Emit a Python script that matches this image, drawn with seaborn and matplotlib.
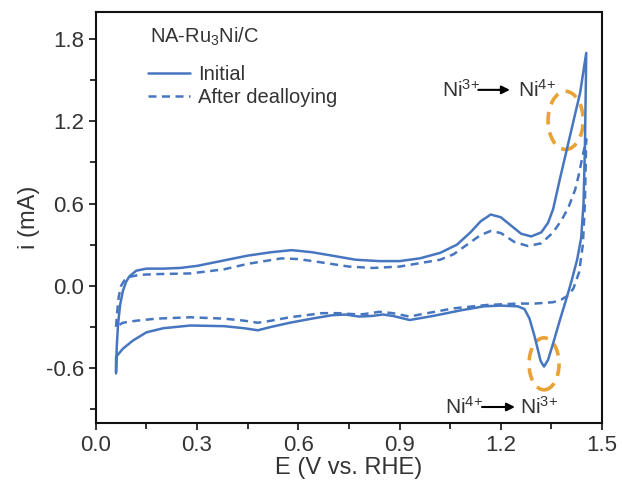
import pandas as pd
import seaborn as sns
import matplotlib.pyplot as plt
from matplotlib.patches import Ellipse
from matplotlib.ticker import MultipleLocator, FormatStrFormatter

# CV loops: anodic scan up to 1.45 V, then cathodic scan back
initial_E = [0.06, 0.062, 0.066, 0.072, 0.08, 0.09, 0.10, 0.12, 0.15, 0.20, 0.25, 0.30,
             0.38, 0.45, 0.52, 0.58, 0.64, 0.70, 0.77, 0.84, 0.90, 0.96, 1.02, 1.07,
             1.11, 1.14, 1.17, 1.20, 1.23, 1.26, 1.29, 1.32, 1.34, 1.355, 1.375, 1.395,
             1.414, 1.435, 1.453,
             1.452, 1.449, 1.445, 1.438, 1.426, 1.41, 1.396, 1.375, 1.355, 1.34, 1.328,
             1.318, 1.308, 1.30, 1.285, 1.27, 1.25, 1.20, 1.15, 1.08, 1.00, 0.93, 0.88,
             0.85, 0.82, 0.78, 0.74, 0.70, 0.64, 0.575, 0.52, 0.48, 0.44, 0.38, 0.28,
             0.20, 0.15, 0.11, 0.08, 0.06, 0.06]
initial_i = [-0.64, -0.45, -0.28, -0.14, -0.04, 0.03, 0.07, 0.11, 0.125, 0.125, 0.13, 0.145,
             0.185, 0.22, 0.245, 0.26, 0.245, 0.22, 0.19, 0.18, 0.18, 0.20, 0.24, 0.30,
             0.39, 0.47, 0.52, 0.50, 0.44, 0.38, 0.36, 0.39, 0.46, 0.56, 0.78, 0.99,
             1.19, 1.41, 1.70,
             1.50, 1.00, 0.60, 0.35, 0.19, 0.04, -0.08, -0.25, -0.42, -0.54, -0.59,
             -0.55, -0.45, -0.37, -0.24, -0.17, -0.15, -0.145, -0.15, -0.18, -0.22, -0.25, -0.22,
             -0.21, -0.22, -0.225, -0.21, -0.215, -0.24, -0.27, -0.30, -0.325, -0.31, -0.295, -0.29,
             -0.31, -0.34, -0.40, -0.46, -0.52, -0.63]

dealloy_E = [0.06, 0.063, 0.068, 0.075, 0.085, 0.10, 0.13, 0.18, 0.28, 0.38, 0.45, 0.55,
             0.60, 0.67, 0.75, 0.82, 0.90, 0.96, 1.02, 1.06, 1.10, 1.14, 1.17, 1.20,
             1.24, 1.28, 1.32, 1.355, 1.38, 1.40, 1.42, 1.43, 1.44, 1.453,
             1.452, 1.449, 1.443, 1.432, 1.415, 1.40, 1.38, 1.355, 1.30, 1.25, 1.16, 1.06,
             0.96, 0.93, 0.88, 0.84, 0.80, 0.78, 0.72, 0.67, 0.575, 0.52, 0.48, 0.44,
             0.38, 0.28, 0.18, 0.12, 0.08, 0.06]
dealloy_i = [-0.30, -0.20, -0.08, 0.0, 0.04, 0.065, 0.08, 0.085, 0.09, 0.12, 0.16, 0.20,
             0.195, 0.17, 0.14, 0.13, 0.14, 0.165, 0.19, 0.23, 0.30, 0.37, 0.40, 0.385,
             0.32, 0.29, 0.31, 0.39, 0.48, 0.57, 0.70, 0.80, 0.92, 1.07,
             0.95, 0.60, 0.30, 0.10, -0.02, -0.07, -0.10, -0.12, -0.13, -0.13, -0.14, -0.165,
             -0.21, -0.225, -0.20, -0.19, -0.205, -0.21, -0.20, -0.20, -0.23, -0.255, -0.27, -0.255,
             -0.24, -0.23, -0.24, -0.255, -0.27, -0.30]

series_names = ["Initial", "After dealloying"]

df = pd.concat([
    pd.DataFrame({"E": initial_E, "i": initial_i, "series": series_names[0]}),
    pd.DataFrame({"E": dealloy_E, "i": dealloy_i, "series": series_names[1]}),
], ignore_index=True)

sns.set_style("ticks")
plt.rcParams["font.family"] = ["Liberation Sans", "DejaVu Sans"]
plt.rcParams["mathtext.fontset"] = "custom"
plt.rcParams["mathtext.rm"] = "Liberation Sans"
plt.rcParams["mathtext.it"] = "Liberation Sans:italic"
plt.rcParams["axes.unicode_minus"] = False

blue = "#4776C0"
orange = "#E9A236"
txt = "#333333"

fig = plt.figure(figsize=(6.22, 4.91), dpi=100)
ax = fig.add_axes([0.154, 0.139, 0.814, 0.837])

sns.lineplot(data=df[df.series == "Initial"], x="E", y="i", sort=False, estimator=None,
             color=blue, lw=1.8, label="Initial", ax=ax)
sns.lineplot(data=df[df.series == "After dealloying"], x="E", y="i", sort=False, estimator=None,
             color=blue, lw=1.8, label="After dealloying", ax=ax)
ax.lines[1].set_dashes((3.2, 2.2))

# highlight the Ni redox features
ax.add_patch(Ellipse((1.392, 1.207), 0.104, 0.424, fill=False, ec=orange, lw=2.6,
                     ls=(0, (3.5, 2.2))))
ax.add_patch(Ellipse((1.328, -0.57), 0.089, 0.38, fill=False, ec=orange, lw=2.6,
                     ls=(0, (3.5, 2.2))))

ax.text(1.026, 1.43, r"Ni$^{3{+}}$", fontsize=15, va="center", ha="left", color=txt)
ax.annotate("", xy=(1.235, 1.43), xytext=(1.125, 1.43),
            arrowprops=dict(arrowstyle="-|>", color="black", lw=1.5, mutation_scale=12))
ax.text(1.251, 1.43, r"Ni$^{4{+}}$", fontsize=15, va="center", ha="left", color=txt)

ax.text(1.035, -0.885, r"Ni$^{4{+}}$", fontsize=15, va="center", ha="left", color=txt)
ax.annotate("", xy=(1.25, -0.885), xytext=(1.136, -0.885),
            arrowprops=dict(arrowstyle="-|>", color="black", lw=1.5, mutation_scale=12))
ax.text(1.257, -0.885, r"Ni$^{3{+}}$", fontsize=15, va="center", ha="left", color=txt)

ax.text(0.107, 0.939, r"NA-Ru$_{3}$Ni/C", transform=ax.transAxes, fontsize=14.5,
        va="center", ha="left", color=txt)
leg = ax.legend(loc="upper left", bbox_to_anchor=(0.103, 0.87), frameon=False,
                fontsize=14.5, handlelength=2.1, handletextpad=0.4, labelspacing=0.2,
                borderpad=0, borderaxespad=0)
for t in leg.get_texts():
    t.set_color(txt)

ax.set_xlim(0.0, 1.5)
ax.set_ylim(-1.0, 2.0)
ax.xaxis.set_major_locator(MultipleLocator(0.3))
ax.xaxis.set_minor_locator(MultipleLocator(0.15))
ax.yaxis.set_major_locator(MultipleLocator(0.6))
ax.yaxis.set_minor_locator(MultipleLocator(0.3))
ax.xaxis.set_major_formatter(FormatStrFormatter("%.1f"))
ax.yaxis.set_major_formatter(FormatStrFormatter("%.1f"))
ax.tick_params(which="major", length=5, width=1.3, labelsize=16, colors="#222222",
               labelcolor=txt)
ax.tick_params(which="minor", length=4, width=1.3, colors="#222222")
for s in ax.spines.values():
    s.set_linewidth(1.5)
    s.set_color("#111111")

ax.set_xlabel("E (V vs. RHE)", fontsize=17, color=txt, labelpad=1)
ax.set_ylabel("i (mA)", fontsize=17, color=txt, labelpad=4)

fig.savefig("out.png", dpi=100)
